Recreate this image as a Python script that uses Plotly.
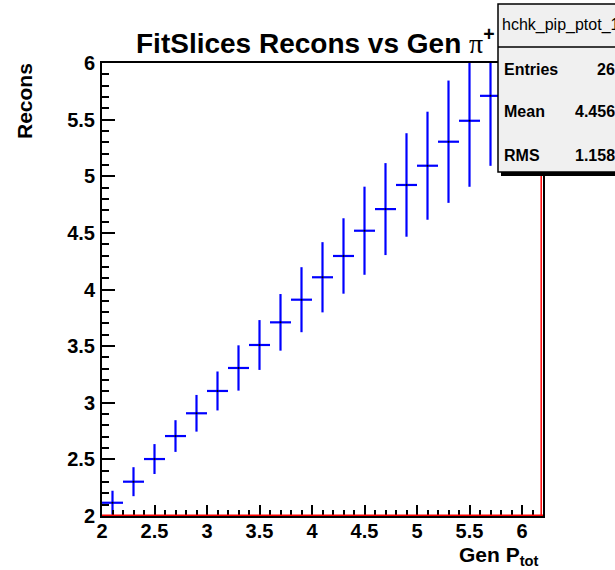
import plotly.graph_objects as go

# ---- data ----
x_gen = [2.1, 2.3, 2.5, 2.7, 2.9, 3.1, 3.3, 3.5, 3.7, 3.9, 4.1, 4.3, 4.5, 4.7, 4.9, 5.1, 5.3, 5.5, 5.7]
y_rec = [2.117, 2.303, 2.503, 2.706, 2.907, 3.104, 3.307, 3.51, 3.71, 3.91, 4.108, 4.296,
         4.519, 4.71, 4.923, 5.093, 5.305, 5.49, 5.71]
y_err = [0.106, 0.128, 0.132, 0.14, 0.162, 0.172, 0.2, 0.22, 0.25, 0.287, 0.31, 0.333,
         0.389, 0.406, 0.457, 0.477, 0.54, 0.583, 0.618]
x_err = [0.1] * len(x_gen)

x_ticks = [2, 2.5, 3, 3.5, 4, 4.5, 5, 5.5, 6]
x_tick_text = ["2", "2.5", "3", "3.5", "4", "4.5", "5", "5.5", "6"]
y_ticks = [2, 2.5, 3, 3.5, 4, 4.5, 5, 5.5, 6]
y_tick_text = ["2", "2.5", "3", "3.5", "4", "4.5", "5", "5.5", "6"]

stats_name = "hchk_pip_ptot_1"
stats_labels = ["Entries", "Mean", "RMS"]
stats_values = ["26", "4.456", "1.158"]

X_RANGE = [2, 6.2]
Y_RANGE = [2, 6]

W, H = 615, 570
L, R, T, B = 102, 72, 63, 54
PW, PH = W - L - R, H - T - B

def px(xp):
    return (xp - L) / PW

def py(yp):
    return (H - B - yp) / PH

FONT = "Liberation Sans"

fig = go.Figure()
fig.add_trace(go.Scatter(
    x=x_gen, y=y_rec, mode="markers",
    marker=dict(color="black", size=2),
    error_y=dict(type="data", array=y_err, visible=True, color="#0000ff", thickness=2.2, width=0),
    error_x=dict(type="data", array=x_err, visible=True, color="#0000ff", thickness=2.2, width=0),
    showlegend=False,
))

axis_common = dict(
    showline=True, linecolor="black", linewidth=2, mirror=True,
    ticks="inside", tickcolor="black", tickwidth=2,
    showgrid=False, zeroline=False,
    tickfont=dict(family=FONT, size=20, color="black", weight="bold"),
)

fig.update_xaxes(range=X_RANGE, tickmode="array", tickvals=x_ticks, ticktext=x_tick_text,
                 ticklen=11, ticklabelstandoff=-4,
                 minor=dict(dtick=0.1, ticks="inside", ticklen=6, tickwidth=1.5, tickcolor="black"),
                 **axis_common)
fig.update_yaxes(range=Y_RANGE, tickmode="array", tickvals=y_ticks, ticktext=y_tick_text,
                 ticklen=13, ticklabelstandoff=1,
                 minor=dict(dtick=0.1, ticks="inside", ticklen=7, tickwidth=1.5, tickcolor="black"),
                 **axis_common)

shapes = []
# red histogram frame lines (bottom and right)
shapes.append(dict(type="line", xref="paper", yref="paper", x0=0, x1=1, y0=py(515.3), y1=py(515.3),
                   line=dict(color="#ff0000", width=1.5), layer="above"))
shapes.append(dict(type="line", xref="paper", yref="paper", x0=px(541.2), x1=px(541.2), y0=0, y1=1,
                   line=dict(color="#ff0000", width=1.5), layer="above"))
# stats box shadow, box and divider
shapes.append(dict(type="rect", xref="paper", yref="paper", x0=px(501), x1=px(640), y0=py(176), y1=py(8),
                   fillcolor="black", line=dict(width=0), layer="above"))
shapes.append(dict(type="rect", xref="paper", yref="paper", x0=px(498), x1=px(636), y0=py(172), y1=py(4),
                   fillcolor="#f0f0f0", line=dict(color="black", width=1.5), layer="above"))
shapes.append(dict(type="line", xref="paper", yref="paper", x0=px(498), x1=px(636), y0=py(47), y1=py(47),
                   line=dict(color="black", width=1.5), layer="above"))

annotations = []
# title
annotations.append(dict(
    xref="paper", yref="paper", x=px(134), y=py(41), xanchor="left", yanchor="middle",
    text="FitSlices Recons vs Gen <span style='font-family:Liberation Serif;font-weight:normal'>π</span><sup>+</sup>",
    showarrow=False, font=dict(family=FONT, size=28, color="black", weight="bold"),
))
# y-axis title
annotations.append(dict(
    xref="paper", yref="paper", x=px(24), y=py(61), xanchor="center", yanchor="top",
    text="Recons", textangle=-90, showarrow=False,
    font=dict(family=FONT, size=21, color="black", weight="bold"),
))
# x-axis title
annotations.append(dict(
    xref="paper", yref="paper", x=px(541), y=py(556), xanchor="right", yanchor="middle",
    text="Gen P<sub>tot</sub>", showarrow=False,
    font=dict(family=FONT, size=21, color="black", weight="bold"),
))
# stats box texts
annotations.append(dict(
    xref="paper", yref="paper", x=px(500), y=py(25), xanchor="left", yanchor="middle",
    text=stats_name, showarrow=False,
    font=dict(family=FONT, size=16, color="black"),
))
row_y = [70, 111, 155]
for lab, val, ry in zip(stats_labels, stats_values, row_y):
    annotations.append(dict(
        xref="paper", yref="paper", x=px(502), y=py(ry), xanchor="left", yanchor="middle",
        text=lab, showarrow=False, font=dict(family=FONT, size=16, color="black", weight="bold"),
    ))
    annotations.append(dict(
        xref="paper", yref="paper", x=px(617), y=py(ry), xanchor="right", yanchor="middle",
        text=val, showarrow=False, font=dict(family=FONT, size=16, color="black", weight="bold"),
    ))

fig.update_layout(
    width=W, height=H,
    margin=dict(l=L, r=R, t=T, b=B, pad=0),
    paper_bgcolor="white", plot_bgcolor="white",
    shapes=shapes, annotations=annotations,
    showlegend=False,
)

fig.write_html("out.html")
